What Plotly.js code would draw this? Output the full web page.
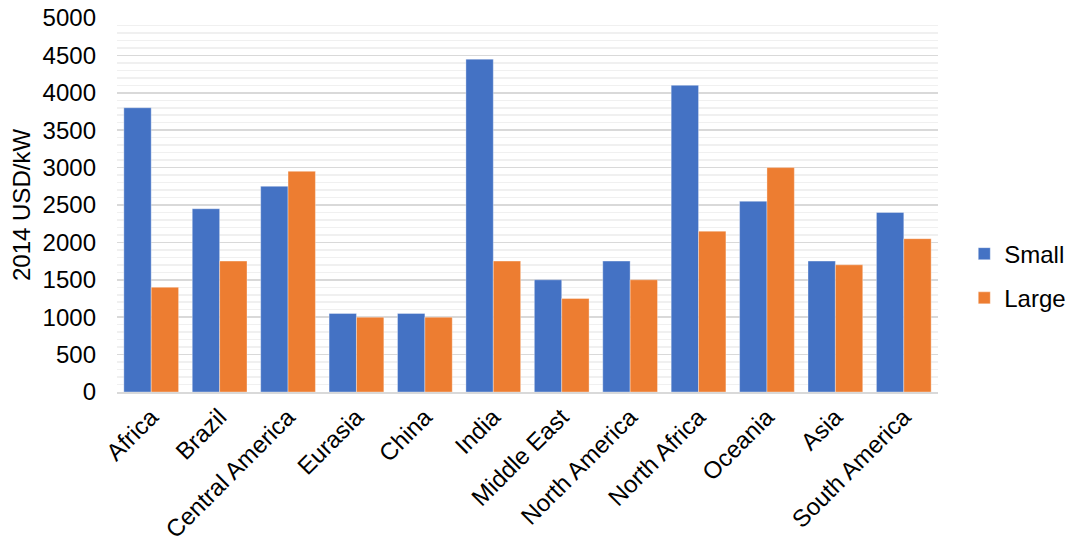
<!DOCTYPE html>
<html>
<head>
<meta charset="utf-8">
<script src="https://cdn.plot.ly/plotly-3.0.1.min.js"></script>
<style>
  html, body { margin: 0; padding: 0; background: #ffffff; }
  #chart { width: 1068px; height: 540px; }
</style>
</head>
<body>
<div id="chart"></div>
<script>
// Installed capital cost by region, small vs large plants
const regions = ["Africa", "Brazil", "Central America", "Eurasia", "China", "India",
  "Middle East", "North America", "North Africa", "Oceania", "Asia", "South America"];
const smallCost = [3800, 2450, 2750, 1050, 1050, 4450, 1500, 1750, 4100, 2550, 1750, 2400];
const largeCost = [1400, 1750, 2950, 1000, 1000, 1750, 1250, 1500, 2150, 3000, 1700, 2050];
const yTickValues = [0, 500, 1000, 1500, 2000, 2500, 3000, 3500, 4000, 4500, 5000];

const font = "Liberation Sans, Arial, sans-serif";

const traces = [
  {
    type: "bar", name: "Small", x: regions, y: smallCost, legendgroup: "small",
    marker: { color: "#4472C4", line: { color: "rgba(255,255,255,0.35)", width: 1 } },
    hoverinfo: "x+y+name"
  },
  {
    type: "bar", name: "Large", x: regions, y: largeCost, legendgroup: "large",
    marker: { color: "#ED7D31", line: { color: "rgba(255,255,255,0.35)", width: 1 } },
    hoverinfo: "x+y+name"
  }
];

const layout = {
  width: 1068, height: 540,
  margin: { l: 117, r: 130, t: 18, b: 148, autoexpand: false },
  paper_bgcolor: "#ffffff", plot_bgcolor: "#ffffff",
  font: { family: font, size: 24, color: "#000000" },
  barmode: "group", bargap: 0.2, bargroupgap: 0,
  showlegend: true,
  legend: {
    x: 1.032, xanchor: "left", y: 0.31, yanchor: "middle",
    font: { family: font, size: 24, color: "#000000" },
    traceorder: "grouped", tracegroupgap: 10,
    itemwidth: 30, bgcolor: "rgba(0,0,0,0)"
  },
  xaxis: {
    type: "category", tickangle: -45, showgrid: false,
    showline: true, linecolor: "#d9d9d9", linewidth: 1.5,
    ticks: "", tickfont: { family: font, size: 24, color: "#000000" },
    fixedrange: true
  },
  yaxis: {
    range: [0, 5000], tickvals: yTickValues, ticktext: yTickValues.map(String),
    showgrid: true, gridcolor: "#d9d9d9", gridwidth: 1.5,
    minor: { dtick: 100, showgrid: true, gridcolor: "#f0f0f0", gridwidth: 1.5 },
    zeroline: false, showline: false, ticks: "",
    ticklabelstandoff: 20,
    tickfont: { family: font, size: 24, color: "#000000" },
    title: { text: "2014 USD/kW", font: { family: font, size: 24, color: "#000000" }, standoff: 5 },
    fixedrange: true
  }
};

Plotly.newPlot("chart", traces, layout, { displayModeBar: false, staticPlot: true });
</script>
</body>
</html>
